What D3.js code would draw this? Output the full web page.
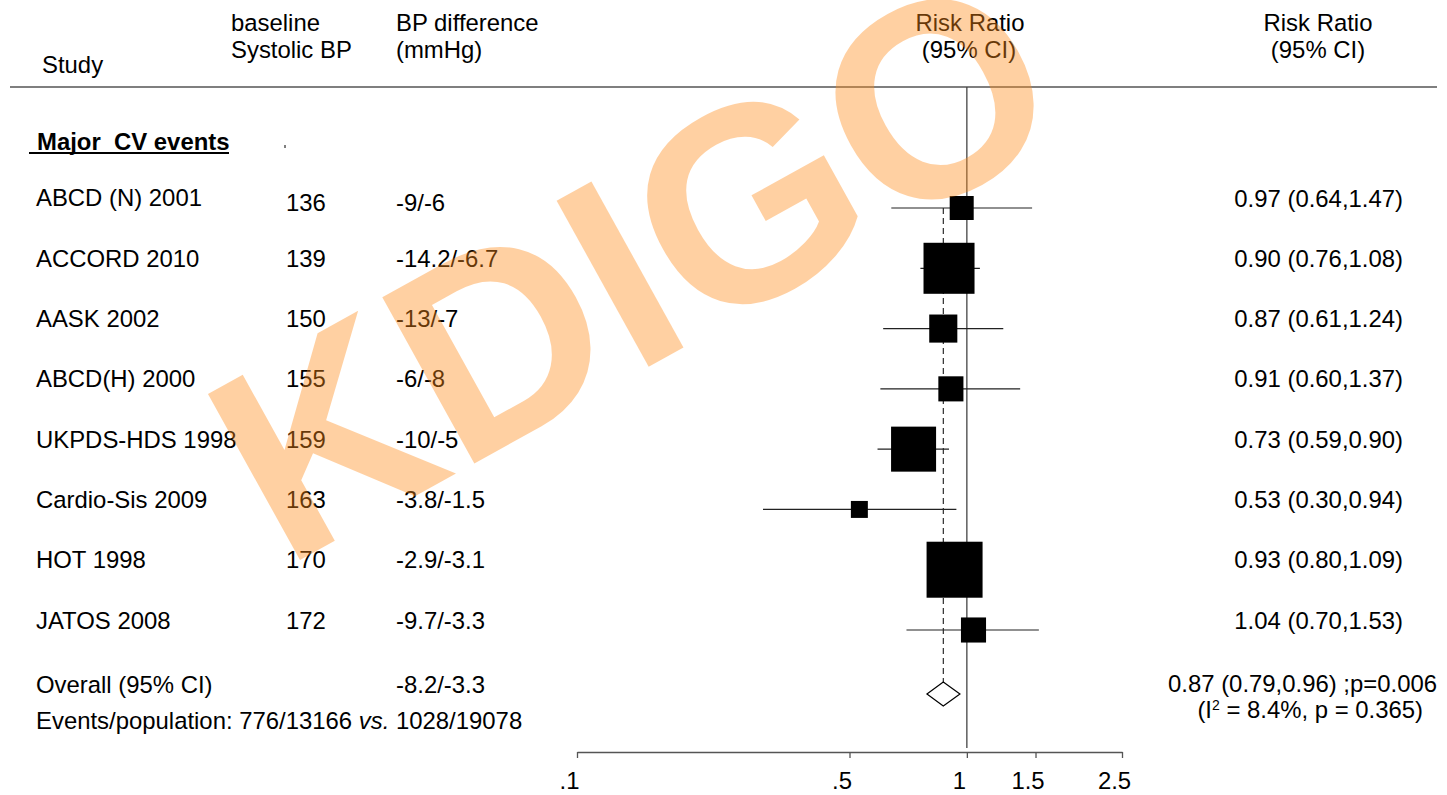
<!DOCTYPE html>
<html>
<head>
<meta charset="utf-8">
<script src="https://cdn.jsdelivr.net/npm/d3@7"></script>
<style>
  body { margin: 0; background: #fff; }
  svg { display: block; }
  text { font-family: "Liberation Sans", Arial, sans-serif; font-size: 23.9px; fill: #000; }
</style>
</head>
<body>
<script>
// data =======================================================
var studies = ["ABCD (N) 2001", "ACCORD 2010", "AASK 2002", "ABCD(H) 2000",
               "UKPDS-HDS 1998", "Cardio-Sis 2009", "HOT 1998", "JATOS 2008"];
var baselineSBP = [136, 139, 150, 155, 159, 163, 170, 172];
var bpDiff = ["-9/-6", "-14.2/-6.7", "-13/-7", "-6/-8", "-10/-5", "-3.8/-1.5", "-2.9/-3.1", "-9.7/-3.3"];
var rr   = [0.97, 0.90, 0.87, 0.91, 0.73, 0.53, 0.93, 1.04];
var rrLo = [0.64, 0.76, 0.61, 0.60, 0.59, 0.30, 0.80, 0.70];
var rrHi = [1.47, 1.08, 1.24, 1.37, 0.90, 0.94, 1.09, 1.53];
var weights = [5.4, 24.4, 7.4, 5.9, 19.0, 2.7, 29.4, 5.9]; // % weight (box area)

var overall = { rr: 0.87, lo: 0.79, hi: 0.96 };
var overallBP = "-8.2/-3.3";
var overallP = "0.006";
var i2 = "8.4%", hetP = "0.365";
var events = ["776/13166", "1028/19078"];

var tickValues = [0.1, 0.5, 1, 1.5, 2.5];
var tickLabels = [".1", ".5", "1", "1.5", "2.5"];
// =============================================================

var width = 1447, height = 795;

var svg = d3.select("body").append("svg")
    .attr("width", width)
    .attr("height", height);

var x = d3.scaleLog()
    .domain([0.1, 2.5])
    .range([577, 1122]);

// text rows; markers sit a little lower
var y = d3.scalePoint()
    .domain(studies)
    .range([198, 620]);
var markOff = 10;

var box = d3.scaleSqrt()
    .domain([0, d3.max(weights)])
    .range([0, 56]);

var fmt = d3.format(".2f");

// header
var head = svg.append("g");
head.append("text").attr("x", 42).attr("y", 73).text("Study");
head.append("text").attr("x", 231).attr("y", 31).text("baseline");
head.append("text").attr("x", 231).attr("y", 58).text("Systolic BP");
head.append("text").attr("x", 396).attr("y", 31).text("BP difference");
head.append("text").attr("x", 396).attr("y", 58).text("(mmHg)");
head.append("text").attr("x", 970).attr("y", 31).attr("text-anchor", "middle").text("Risk Ratio");
head.append("text").attr("x", 969).attr("y", 58).attr("text-anchor", "middle").text("(95% CI)");
head.append("text").attr("x", 1318).attr("y", 31).attr("text-anchor", "middle").text("Risk Ratio");
head.append("text").attr("x", 1318).attr("y", 58).attr("text-anchor", "middle").text("(95% CI)");

svg.append("line")
    .attr("x1", 10).attr("x2", 1437)
    .attr("y1", 87).attr("y2", 87)
    .attr("stroke", "#555").attr("stroke-width", 1.5);

// section title
svg.append("text")
    .attr("x", 37).attr("y", 150)
    .style("font-weight", "bold")
    .style("white-space", "pre")
    .text("Major  CV events");
svg.append("line")
    .attr("x1", 29).attr("x2", 229)
    .attr("y1", 153).attr("y2", 153)
    .attr("stroke", "#000").attr("stroke-width", 2);
svg.append("line")
    .attr("x1", 285).attr("x2", 285)
    .attr("y1", 145).attr("y2", 148)
    .attr("stroke", "#000").attr("stroke-width", 1);

// null line
svg.append("line")
    .attr("x1", x(1)).attr("x2", x(1))
    .attr("y1", 87).attr("y2", 748)
    .attr("stroke", "#444").attr("stroke-width", 1.3);

// overall dashed line
var diamondY = 694;
svg.append("line")
    .attr("x1", x(overall.rr)).attr("x2", x(overall.rr))
    .attr("y1", y(studies[0]) + markOff).attr("y2", diamondY - 12)
    .attr("stroke", "#000").attr("stroke-width", 1)
    .attr("stroke-dasharray", "6,4");

// study rows
var rows = svg.selectAll(".row")
    .data(studies)
  .enter().append("g")
    .attr("class", "row");

// first row's numbers sit slightly lower in the original
var numOff = i => (i === 0 ? 4 : 0);

rows.append("text")
    .attr("x", 36)
    .attr("y", (d, i) => y(d) + 8.5 - (i === 0 ? 1 : 0))
    .text(d => d);

rows.append("text")
    .attr("x", 286)
    .attr("y", (d, i) => y(d) + 8.5 + numOff(i))
    .text((d, i) => baselineSBP[i]);

rows.append("text")
    .attr("x", 396)
    .attr("y", (d, i) => y(d) + 8.5 + numOff(i))
    .text((d, i) => bpDiff[i]);

rows.append("text")
    .attr("x", 1403)
    .attr("y", d => y(d) + 8.5)
    .attr("text-anchor", "end")
    .text((d, i) => fmt(rr[i]) + " (" + fmt(rrLo[i]) + "," + fmt(rrHi[i]) + ")");

rows.append("line")
    .attr("x1", (d, i) => x(rrLo[i]))
    .attr("x2", (d, i) => x(rrHi[i]))
    .attr("y1", d => y(d) + markOff)
    .attr("y2", d => y(d) + markOff)
    .attr("stroke", "#222").attr("stroke-width", 1.2);

rows.append("rect")
    .attr("x", (d, i) => x(rr[i]) - box(weights[i]) / 2)
    .attr("y", (d, i) => y(d) + markOff - box(weights[i]) / 2)
    .attr("width", (d, i) => box(weights[i]))
    .attr("height", (d, i) => box(weights[i]))
    .attr("fill", "#000");

// overall row
svg.append("text").attr("x", 36).attr("y", 693).text("Overall (95% CI)");
svg.append("text").attr("x", 396).attr("y", 693).text(overallBP);

var ev = svg.append("text").attr("x", 36).attr("y", 729).style("white-space", "pre");
ev.append("tspan").text("Events/population: " + events[0] + " ");
ev.append("tspan").style("font-style", "italic").text("vs.");
ev.append("tspan").text(" " + events[1]);

svg.append("text")
    .attr("x", 1437).attr("y", 692)
    .attr("text-anchor", "end")
    .text(fmt(overall.rr) + " (" + fmt(overall.lo) + "," + fmt(overall.hi) + ") ;p=" + overallP);

var het = svg.append("text")
    .attr("x", 1423).attr("y", 718)
    .attr("text-anchor", "end");
het.append("tspan").text("(I");
het.append("tspan").attr("dy", -8).style("font-size", "14px").text("2");
het.append("tspan").attr("dy", 8).text(" = " + i2 + ", p = " + hetP + ")");

svg.append("path")
    .attr("d", "M" + x(overall.lo) + "," + diamondY +
               "L" + x(overall.rr) + "," + (diamondY - 12) +
               "L" + x(overall.hi) + "," + diamondY +
               "L" + x(overall.rr) + "," + (diamondY + 12) + "Z")
    .attr("fill", "#fff")
    .attr("stroke", "#000").attr("stroke-width", 1.2);

// x axis
var xAxis = d3.axisBottom(x)
    .tickValues(tickValues)
    .tickFormat((d, i) => tickLabels[i])
    .tickSize(6)
    .tickSizeOuter(0);

var ax = svg.append("g")
    .attr("transform", "translate(0,752)")
    .call(xAxis);
ax.select(".domain").attr("stroke", "#555").attr("stroke-width", 1.3);
ax.selectAll(".tick line").attr("stroke", "#555").attr("stroke-width", 1.3);
ax.selectAll(".tick text")
    .attr("y", 20)
    .attr("dx", -8)
    .style("font-size", "23.9px")
    .style("font-family", "'Liberation Sans', Arial, sans-serif")
    .attr("fill", "#000");

// watermark on top
svg.append("text")
    .attr("transform", "translate(632,264) rotate(-29)")
    .attr("text-anchor", "middle")
    .attr("y", 98)
    .style("font-size", "276px")
    .style("font-weight", "bold")
    .style("fill", "#ff8c1a")
    .style("opacity", 0.4)
    .text("KDIGO");
</script>
</body>
</html>
